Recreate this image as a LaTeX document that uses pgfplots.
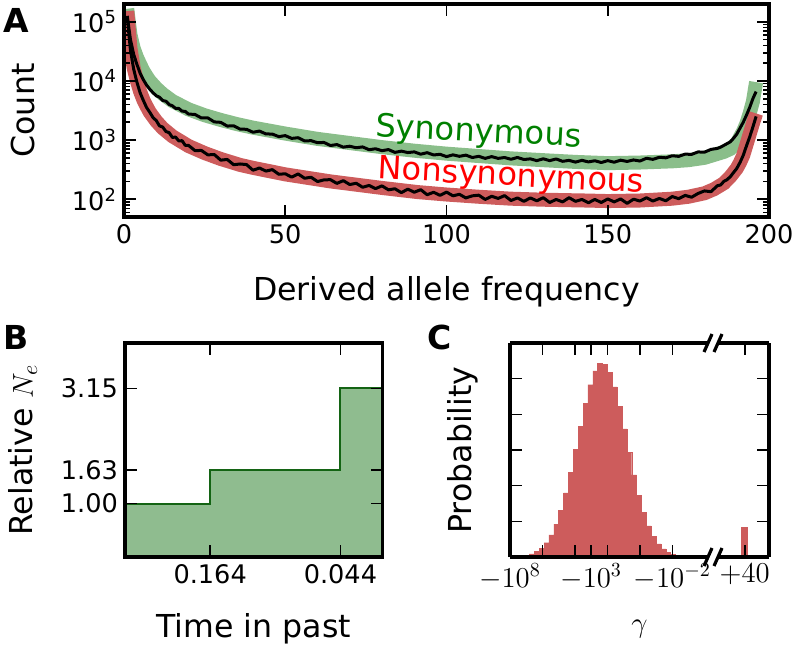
\documentclass[border=0pt]{standalone}
\usepackage{fontspec}
\setmainfont{DejaVu Sans}
\usepackage{pgfplots}
\pgfplotsset{compat=1.18}

\definecolor{bandgreen}{RGB}{138,190,138}
\definecolor{bandred}{RGB}{205,92,92}
\definecolor{stepfill}{RGB}{143,188,143}
\definecolor{stepline}{RGB}{20,100,20}
\definecolor{txtgreen}{RGB}{0,128,0}
\definecolor{txtred}{RGB}{255,0,0}

\newcommand\tickfont{\fontsize{12.8}{14}\selectfont}
\newcommand\labfont{\fontsize{15.8}{18}\selectfont}
\newcommand\panelfont{\fontsize{16.5}{19}\selectfont\bfseries}

\pgfplotsset{
  panel/.style={
    scale only axis,
    anchor=south west,
    tick align=inside,
    major tick length=6pt,
    minor tick length=3pt,
    every tick/.append style={black, line width=0.8pt},
    axis line style={line width=1.6pt},
    ticklabel style={font=\tickfont},
    label style={font=\labfont},
    axis on top,
    /pgf/number format/assume math mode=true,
  }
}

\begin{document}
\begin{tikzpicture}
\useasboundingbox (0,0) rectangle (398.5pt,324pt);

% ---- A: site frequency spectra
\begin{axis}[panel, at={(62pt,215.5pt)}, width=322.5pt, height=106.5pt,
  xmin=0, xmax=200, ymode=log, ymin=50, ymax=2e5,
  xtick={0,50,100,150,200},
  ytick={100,1000,10000,100000},
  yticklabels={10\textsuperscript{2},10\textsuperscript{3},10\textsuperscript{4},10\textsuperscript{5}},
  minor ytick={60,70,80,90,200,300,400,500,600,700,800,900,2000,3000,4000,5000,6000,7000,8000,9000,20000,30000,40000,50000,60000,70000,80000,90000},
  xlabel={Derived allele frequency}, ylabel={Count},
  xlabel style={at={(axis description cs:0.5,-0.39)}, anchor=base},
  ylabel style={at={(axis description cs:-0.138,0.5)}, anchor=base},
]
% model fits (thick bands)
\addplot[bandgreen, line width=7pt] coordinates {
(1,166000) (2,60260) (3,35480) (4,25120) (5,19050) (6,14790) (7,12020) (8,10000)
(10,7586) (12,6026) (15,4571) (20,3311) (25,2630) (30,2188) (35,1862) (40,1622)
(50,1288) (60,1047) (70,891) (80,759) (90,661) (100,589) (110,537) (120,490)
(130,457) (140,427) (150,407) (160,417) (170,437) (175,457) (180,501) (183,562)
(186,631) (188,708) (190,891) (191,1122) (192,1413) (193,1905) (194,2818)
(195,4467) (196,9550)};
\addplot[bandred, line width=7pt] coordinates {
(1,151400) (2,35480) (3,16600) (4,10000) (5,6607) (6,4786) (7,3715) (8,2951)
(10,2089) (12,1585) (15,1161) (20,794) (25,603) (30,479) (36,380) (40,339)
(50,263) (64,200) (80,155) (91,132) (100,120) (110,110) (120,102) (130,98)
(143,95) (150,93) (160,95) (170,102) (175,110) (180,126) (183,148) (186,186)
(188,240) (190,331) (191,417) (192,550) (193,832) (194,1259) (195,1905) (196,2818)};
% observed synonymous
\addplot[black, line width=1.5pt, line join=round] coordinates {
(1,125900) (2,50100) (3,28200) (4,19050) (5,13490) (6,10470) (7,8510) (8,7240)
(9,6310) (10,5620) (11,5300) (12,4660) (13,4540) (14,3990) (15,3800) (16,3436)
(17,3420) (18,3090) (19,3050) (20,2754) (22,2710) (24,2366) (26,2366) (28,2028)
(30,1995) (32,1726) (34,1742) (36,1531) (38,1521) (40,1355) (42,1419) (44,1271)
(46,1262) (48,1143) (50,1189) (52,1067) (54,1096) (56,966) (58,977) (60,902)
(62,912) (64,809) (66,839) (68,759) (70,787) (72,741) (74,766) (76,687)
(78,713) (80,661) (82,690) (84,619) (86,650) (88,615) (90,631) (92,577)
(94,612) (96,560) (98,574) (100,525) (102,562) (104,531) (106,556) (108,507)
(110,531) (112,490) (114,525) (116,490) (118,507) (120,473) (122,508) (124,469)
(126,481) (128,449) (130,482) (132,449) (134,479) (136,437) (138,453) (140,424)
(142,454) (144,427) (146,447) (148,417) (150,449) (152,422) (154,457) (156,435)
(158,461) (160,442) (162,492) (164,472) (166,511) (168,501) (170,543) (172,530)
(174,578) (176,573) (178,630) (180,624) (182,695) (184,723) (185,759) (186,813)
(187,871) (188,933) (189,1072) (190,1259) (191,1585) (192,1995) (193,2630)
(194,3548) (195,5012) (196,6607)};
% observed nonsynonymous
\addplot[black, line width=1.5pt, line join=round] coordinates {
(1,120200) (2,33110) (3,15850) (4,9550) (5,6310) (6,4677) (7,3548) (8,2951)
(9,2399) (10,2138) (11,1738) (12,1660) (13,1396) (14,1334) (15,1109) (16,1122)
(17,966) (18,977) (19,813) (20,813) (22,664) (24,667) (26,562) (28,569)
(30,457) (32,470) (34,383) (36,394) (38,385) (40,309) (42,337) (44,299)
(46,316) (48,264) (50,269) (52,236) (54,267) (56,226) (58,235) (60,199)
(62,212) (64,214) (66,185) (68,206) (70,177) (72,186) (74,159) (76,171)
(78,151) (80,168) (82,144) (84,150) (86,129) (88,148) (90,131) (92,145)
(94,119) (96,131) (98,116) (100,132) (102,114) (104,121) (106,105) (108,114)
(110,117) (112,99) (114,112) (116,103) (118,115) (120,95) (122,105) (124,92)
(126,105) (128,94) (130,106) (132,88) (134,99) (136,90) (138,106) (140,92)
(142,99) (144,87) (146,99) (148,88) (150,101) (152,90) (154,101) (156,85)
(158,100) (160,93) (162,106) (164,93) (166,103) (168,94) (170,111) (172,102)
(174,116) (176,108) (178,125) (180,138) (182,134) (184,169) (185,174) (186,200)
(187,214) (188,240) (189,282) (190,331) (191,417) (192,550) (193,794)
(194,1122) (195,1660) (196,2512)};
\node[rotate=-3, text=txtgreen, font=\fontsize{16}{19}\selectfont] at (axis cs:110,1318) {Synonymous};
\node[rotate=-3, text=txtred, font=\fontsize{16}{19}\selectfont] at (axis cs:120,234) {Nonsynonymous};
\end{axis}

% ---- B: demographic model
\begin{axis}[panel, at={(62.5pt,45.5pt)}, width=128.5pt, height=107pt,
  xmin=0, xmax=257, ymin=0, ymax=4,
  xtick={85,215}, xticklabels={0.164,0.044},
  ytick={1,1.63,3.15}, yticklabels={1.00,1.63,3.15},
  xlabel={Time in past}, ylabel={Relative $N_e$},
  xlabel style={at={(axis description cs:0.5,-0.374)}, anchor=base},
  ylabel style={at={(axis description cs:-0.358,0.5)}, anchor=base},
]
\addplot[const plot, fill=stepfill, draw=stepline, line width=1pt]
  coordinates {(0,1) (85,1.63) (215,3.15) (257,3.15)} \closedcycle;
\end{axis}

% ---- C: distribution of fitness effects (broken x axis)
\begin{axis}[panel, name=cl, at={(255pt,45.5pt)}, width=99pt, height=107pt,
  xmin=-8, xmax=4.2, ymin=0, ymax=6,
  axis x line*=box, axis y line*=left,
  xtick={-8,-6,-4,-3,-2,0,2},
  xticklabels={$-10^{8}$,,,$-10^{3}$,,,$-10^{-2}$},
  xticklabel style={font=\fontsize{13.8}{15}\selectfont},
  ytick={0,1,2,3,4,5,6}, yticklabels={},
  ylabel={Probability},
  ylabel style={at={(axis description cs:-0.192,0.5)}, anchor=base},
]
\addplot[const plot, fill=bandred, draw=bandred, line width=0.2pt] coordinates {
(-8.0,0.02) (-7.7,0.03) (-7.4,0.04) (-7.1,0.055) (-6.8,0.085) (-6.5,0.15)
(-6.2,0.25) (-5.9,0.40) (-5.6,0.62) (-5.3,0.92) (-5.0,1.31) (-4.7,1.80)
(-4.4,2.38) (-4.1,3.02) (-3.8,3.67) (-3.5,4.30) (-3.2,4.83) (-2.9,5.22)
(-2.6,5.42) (-2.3,5.41) (-2.0,5.18) (-1.7,4.77) (-1.4,4.22) (-1.1,3.59)
(-0.8,2.93) (-0.5,2.30) (-0.2,1.73) (0.1,1.25) (0.4,0.87) (0.7,0.58)
(1.0,0.37) (1.3,0.23) (1.6,0.14) (1.9,0.08) (2.2,0.045) (2.5,0.025)
(2.8,0.014) (3.1,0.008) (3.4,0.004) (3.7,0.002) (4.0,0.001) (4.3,0.001)} \closedcycle;
\end{axis}
\begin{axis}[panel, name=cr, at={(359pt,45.5pt)}, width=25.5pt, height=107pt,
  xmin=4.85, xmax=8, ymin=0, ymax=6,
  axis x line*=box, axis y line*=right,
  xtick={6.5}, xticklabels={$+40$},
  xticklabel style={font=\fontsize{13.8}{15}\selectfont},
  ytick={0,1,2,3,4,5,6}, yticklabels={},
]
\addplot[ybar, bar width=0.43, fill=bandred, draw=none] coordinates {(6.5,0.84)};
\end{axis}
\foreach \c in {cl.north east, cl.south east, cr.north west, cr.south west}
  \draw[line width=1.6pt] ([xshift=-2pt,yshift=-4.5pt]\c) -- ([xshift=2pt,yshift=4.5pt]\c);
\node[font=\labfont, anchor=base] at (319.75pt,8pt) {$\gamma$};

% panel letters
\node[font=\panelfont, anchor=base west, inner sep=0pt] at (1.5pt,307.5pt) {A};
\node[font=\panelfont, anchor=base west, inner sep=0pt] at (1.5pt,149pt) {B};
\node[font=\panelfont, anchor=base west, inner sep=0pt] at (213.5pt,149pt) {C};
\end{tikzpicture}
\end{document}
